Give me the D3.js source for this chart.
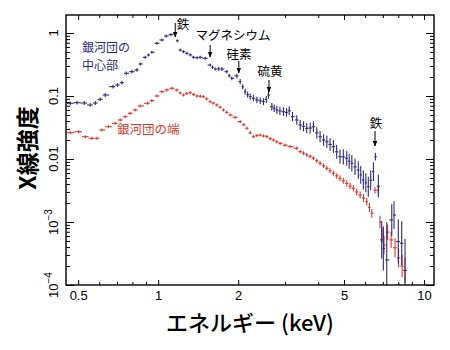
<!DOCTYPE html>
<html>
<head>
<meta charset="utf-8">
<script src="https://cdn.jsdelivr.net/npm/d3@7"></script>
<style>
  html, body { margin: 0; padding: 0; background: #fff; }
  svg { display: block; }
</style>
</head>
<body>
<div id="chart"></div>
<script>
// X線スペクトル: 銀河団の中心部と端

// 中心部 (blue)
const centerEnergy = [0.467, 0.495, 0.527, 0.555, 0.580, 0.605, 0.632, 0.676, 0.703, 0.730,
  0.758, 0.796, 0.832, 0.856, 0.894, 0.919, 0.947, 0.989, 1.033, 1.072,
  1.116, 1.159, 1.179, 1.21, 1.245, 1.282, 1.32, 1.357, 1.40, 1.438,
  1.502, 1.568, 1.60, 1.638, 1.69, 1.736, 1.813, 1.85, 1.892, 1.976,
  2.034, 2.08, 2.124, 2.17, 2.218, 2.28, 2.35, 2.42, 2.489, 2.55,
  2.598, 2.676, 2.73, 2.794, 2.87, 2.958, 3.04, 3.11, 3.20, 3.322,
  3.42, 3.52, 3.62, 3.73, 3.835, 3.95, 4.064, 4.19, 4.31, 4.43,
  4.56, 4.69, 4.83, 4.97, 5.12, 5.23, 5.35, 5.50, 5.66, 5.78,
  5.91, 6.04, 6.17, 6.30, 6.45, 6.56, 6.73, 6.93, 7.03, 7.24,
  7.56, 7.71, 8.0, 8.24, 8.48];
const centerIntensity = [0.0766, 0.0783, 0.0774, 0.072, 0.0774, 0.0887, 0.1037, 0.1405, 0.1495, 0.1626,
  0.229, 0.243, 0.259, 0.322, 0.411, 0.448, 0.494, 0.687, 0.774, 0.896,
  0.94, 0.97, 0.755, 0.537, 0.505, 0.476, 0.448, 0.411, 0.405, 0.411,
  0.397, 0.31, 0.285, 0.268, 0.27, 0.268, 0.243, 0.21, 0.191, 0.208,
  0.169, 0.14, 0.117, 0.105, 0.0975, 0.092, 0.0864, 0.084, 0.0812, 0.088,
  0.1037, 0.0676, 0.064, 0.06, 0.058, 0.0563, 0.055, 0.058, 0.047, 0.0416,
  0.0347, 0.033, 0.0307, 0.031, 0.0326, 0.026, 0.0226, 0.020, 0.0188, 0.017,
  0.0157, 0.013, 0.0109, 0.0108, 0.0103, 0.0092, 0.00855, 0.0075, 0.00669, 0.0056,
  0.00464, 0.0042, 0.00363, 0.0046, 0.0063, 0.0109, 0.0037, 0.00052, 0.00038, 0.00025,
  0.00108, 0.00129, 0.00049, 0.00046, 0.00017];
// 誤差 (dex)
const centerError = [0.03, 0.03, 0.03, 0.03, 0.03, 0.03, 0.03, 0.03, 0.03, 0.03,
  0.03, 0.03, 0.03, 0.025, 0.02, 0.02, 0.02, 0.02, 0.02, 0.02,
  0.02, 0.02, 0.02, 0.02, 0.02, 0.02, 0.02, 0.02, 0.02, 0.02,
  0.025, 0.025, 0.025, 0.025, 0.03, 0.03, 0.03, 0.03, 0.03, 0.035,
  0.04, 0.04, 0.045, 0.045, 0.05, 0.05, 0.05, 0.05, 0.055, 0.055,
  0.06, 0.06, 0.06, 0.065, 0.065, 0.07, 0.07, 0.07, 0.075, 0.075,
  0.08, 0.08, 0.08, 0.085, 0.085, 0.09, 0.09, 0.09, 0.095, 0.1,
  0.1, 0.11, 0.11, 0.12, 0.12, 0.12, 0.13, 0.13, 0.14, 0.14,
  0.15, 0.15, 0.16, 0.16, 0.15, 0.06, 0.18, 0.3, 0.35, 0.6,
  0.25, 0.22, 0.35, 0.35, 0.5];

// 端 (red)
const edgeEnergy = [0.467, 0.502, 0.532, 0.563, 0.588, 0.614, 0.650, 0.689, 0.72, 0.751,
  0.785, 0.819, 0.856, 0.912, 0.947, 0.989, 1.033, 1.078, 1.126, 1.176,
  1.21, 1.245, 1.28, 1.319, 1.36, 1.398, 1.44, 1.48, 1.52, 1.568,
  1.61, 1.662, 1.71, 1.76, 1.81, 1.865, 1.948, 2.034, 2.10, 2.156,
  2.22, 2.282, 2.35, 2.418, 2.49, 2.563, 2.64, 2.714, 2.79, 2.875,
  3.0, 3.134, 3.322, 3.42, 3.52, 3.62, 3.73, 3.835, 3.95, 4.064,
  4.19, 4.31, 4.43, 4.56, 4.69, 4.83, 4.97, 5.12, 5.27, 5.42,
  5.58, 5.75, 5.92, 6.09, 6.23, 6.36, 6.54, 6.73, 6.83, 6.95,
  7.07, 7.29, 7.52, 7.78, 8.02, 8.27, 8.48];
const edgeIntensity = [0.0261, 0.0271, 0.0226, 0.0213, 0.0213, 0.0289, 0.0326, 0.0369, 0.0416, 0.0469,
  0.0531, 0.06, 0.0694, 0.0766, 0.0842, 0.10, 0.117, 0.1245, 0.1325, 0.1245,
  0.112, 0.1037, 0.11, 0.1128, 0.106, 0.10, 0.099, 0.0975, 0.09, 0.0812,
  0.077, 0.072, 0.066, 0.06, 0.055, 0.0499, 0.0459, 0.0391, 0.035, 0.0307,
  0.026, 0.0226, 0.0235, 0.024, 0.0232, 0.0226, 0.021, 0.020, 0.0188, 0.0177,
  0.0166, 0.0157, 0.0148, 0.0131, 0.0124, 0.0116, 0.011, 0.0103, 0.0094, 0.00855,
  0.0078, 0.00712, 0.0065, 0.00593, 0.0054, 0.00494, 0.0045, 0.00411, 0.0037, 0.00343,
  0.003, 0.00268, 0.0024, 0.0021, 0.0017, 0.00137, 0.0032, 0.0032, 0.001, 0.00062,
  0.00043, 0.00069, 0.00052, 0.00039, 0.00027, 0.0002, 0.00017];
const edgeError = [0.02, 0.02, 0.02, 0.02, 0.02, 0.02, 0.02, 0.02, 0.02, 0.02,
  0.02, 0.02, 0.02, 0.02, 0.02, 0.02, 0.015, 0.015, 0.015, 0.015,
  0.015, 0.015, 0.015, 0.015, 0.015, 0.015, 0.015, 0.015, 0.015, 0.015,
  0.015, 0.015, 0.015, 0.02, 0.02, 0.02, 0.02, 0.02, 0.02, 0.02,
  0.02, 0.02, 0.02, 0.02, 0.02, 0.025, 0.025, 0.025, 0.025, 0.025,
  0.025, 0.025, 0.03, 0.03, 0.03, 0.03, 0.03, 0.03, 0.035, 0.035,
  0.035, 0.035, 0.04, 0.04, 0.04, 0.045, 0.045, 0.05, 0.05, 0.05,
  0.055, 0.055, 0.06, 0.06, 0.07, 0.07, 0.05, 0.05, 0.1, 0.12,
  0.15, 0.12, 0.13, 0.15, 0.15, 0.18, 0.2];

// 目盛り
const xTickMajor = [0.5, 1, 2, 5, 10];
const xTickMinor = [0.6, 0.7, 0.8, 0.9, 3, 4, 6, 7, 8, 9];
const yTickMajor = [1e-4, 1e-3, 0.01, 0.1, 1];
const yTickLabels = [["10", "−4"], ["10", "−3"], ["0.01"], ["0.1"], ["1"]];

// 元素ラベル
const lineLabels = [
  { name: "鉄", energy: 1.159, tx: 183, ty: 24, y1: 23, y2: 37 },
  { name: "マグネシウム", energy: 1.568, tx: 233, ty: 35, y1: 45, y2: 57 },
  { name: "硅素", energy: 2.01, tx: 239, ty: 54, y1: 61, y2: 73 },
  { name: "硫黄", energy: 2.61, tx: 270, ty: 71, y1: 80, y2: 92 },
  { name: "鉄", energy: 6.54, tx: 376, ty: 123, y1: 131, y2: 146 }
];

const W = 450, H = 350;
const blue = "#2d2b7e";
const red = "#e2362c";
const jp = "'Noto Sans CJK JP', 'Noto Sans', sans-serif";
const num = "'Liberation Sans', Arial, sans-serif";

const svg = d3.select("#chart").append("svg")
  .attr("width", W)
  .attr("height", H);

const x = d3.scaleLog().domain([0.45, 10.9]).range([66, 434]);
const y = d3.scaleLog().domain([1e-4, 1.93]).range([285, 15]);
const [x0, x1] = x.range();
const [y0, y1] = y.range();

svg.append("defs").append("clipPath").attr("id", "plotClip")
  .append("rect")
  .attr("x", x0).attr("y", y1)
  .attr("width", x1 - x0).attr("height", y0 - y1);

svg.append("defs").append("marker")
  .attr("id", "arrowHead")
  .attr("viewBox", "0 0 10 10")
  .attr("refX", 9).attr("refY", 5)
  .attr("markerWidth", 6).attr("markerHeight", 6)
  .attr("markerUnits", "userSpaceOnUse")
  .attr("orient", "auto")
  .append("path")
  .attr("d", "M0,1 L10,5 L0,9 Z")
  .attr("fill", "#000");

// データ点 (十字のエラーバー)
function drawSeries(energy, intensity, error, color) {
  const pts = energy.map((e, i) => ({ e, v: intensity[i], err: error[i] }));
  const g = svg.append("g").attr("clip-path", "url(#plotClip)")
    .attr("stroke", color).attr("stroke-width", 1.1);
  pts.forEach((p, i) => {
    const px = x(p.e);
    const prev = i > 0 ? x(pts[i - 1].e) : px - (x(pts[i + 1].e) - px);
    const next = i < pts.length - 1 ? x(pts[i + 1].e) : px + (px - prev);
    const hl = (px - prev) / 2, hr = (next - px) / 2;
    const py = y(p.v);
    const lo = y(p.v / Math.pow(10, p.err));
    const hi = y(p.v * Math.pow(10, p.err));
    g.append("line").attr("x1", px - hl).attr("x2", px + hr).attr("y1", py).attr("y2", py);
    g.append("line").attr("x1", px).attr("x2", px).attr("y1", Math.max(lo, py + 1.5)).attr("y2", Math.min(hi, py - 1.5));
  });
}

drawSeries(edgeEnergy, edgeIntensity, edgeError, red);
drawSeries(centerEnergy, centerIntensity, centerError, blue);

// 枠
svg.append("rect")
  .attr("x", x0).attr("y", y1)
  .attr("width", x1 - x0).attr("height", y0 - y1)
  .attr("fill", "none").attr("stroke", "#000").attr("stroke-width", 1.4);

const yTickMinor = [];
yTickMajor.forEach(d => {
  for (let k = 2; k <= 9; k++) {
    const t = d * k;
    if (t < y.domain()[1]) yTickMinor.push(t);
  }
});

function styleAxis(sel) {
  sel.select(".domain").remove();
  sel.selectAll("line").attr("stroke", "#000").attr("stroke-width", 1);
}

// X軸 (下・上)
svg.append("g").attr("transform", `translate(0,${y0})`)
  .call(d3.axisBottom(x).tickValues(xTickMinor).tickSize(-3).tickFormat(""))
  .call(styleAxis);
svg.append("g").attr("transform", `translate(0,${y0})`)
  .call(d3.axisBottom(x).tickValues(xTickMajor).tickSize(-5).tickPadding(6).tickFormat(d3.format("")))
  .call(styleAxis)
  .selectAll("text")
  .style("font-family", num).style("font-size", "13px").style("fill", "#000");
svg.append("g").attr("transform", `translate(0,${y1})`)
  .call(d3.axisTop(x).tickValues(xTickMinor).tickSize(-3).tickFormat(""))
  .call(styleAxis);
svg.append("g").attr("transform", `translate(0,${y1})`)
  .call(d3.axisTop(x).tickValues(xTickMajor).tickSize(-5).tickFormat(""))
  .call(styleAxis);

// Y軸 (左・右)
svg.append("g").attr("transform", `translate(${x0},0)`)
  .call(d3.axisLeft(y).tickValues(yTickMinor).tickSize(-4).tickFormat(""))
  .call(styleAxis);
svg.append("g").attr("transform", `translate(${x0},0)`)
  .call(d3.axisLeft(y).tickValues(yTickMajor).tickSize(-8).tickFormat(""))
  .call(styleAxis);
svg.append("g").attr("transform", `translate(${x1},0)`)
  .call(d3.axisRight(y).tickValues(yTickMinor).tickSize(-4).tickFormat(""))
  .call(styleAxis);
svg.append("g").attr("transform", `translate(${x1},0)`)
  .call(d3.axisRight(y).tickValues(yTickMajor).tickSize(-8).tickFormat(""))
  .call(styleAxis);

// Y目盛りラベル (縦書き回転)
yTickMajor.forEach((d, i) => {
  const lab = yTickLabels[i];
  const t = svg.append("text")
    .attr("transform", `translate(58,${y(d)}) rotate(-90)`)
    .attr("text-anchor", "middle")
    .style("font-family", num).style("font-size", "13px")
    .text(lab[0]);
  if (lab.length > 1) {
    t.append("tspan").attr("dy", -6).style("font-size", "10px").text(lab[1]);
  }
});

// 軸タイトル
svg.append("text")
  .attr("x", 250).attr("y", 331)
  .attr("text-anchor", "middle")
  .style("font-family", jp).style("font-size", "22px").style("font-weight", "500")
  .text("エネルギー (keV)");

svg.append("text")
  .attr("transform", "translate(36,148) rotate(-90)")
  .attr("text-anchor", "middle")
  .style("font-family", jp).style("font-size", "23px").style("font-weight", "700")
  .text("X線強度");

// 系列ラベル
svg.append("text").attr("x", 82).attr("y", 52)
  .style("font-family", jp).style("font-size", "12px").style("fill", blue)
  .text("銀河団の");
svg.append("text").attr("x", 82).attr("y", 70)
  .style("font-family", jp).style("font-size", "12px").style("fill", blue)
  .text("中心部");
svg.append("text").attr("x", 117).attr("y", 134)
  .style("font-family", jp).style("font-size", "12.5px").style("fill", red)
  .text("銀河団の端");

// 輝線の矢印
lineLabels.forEach(l => {
  svg.append("text")
    .attr("x", l.tx).attr("y", l.ty + 4.5)
    .attr("text-anchor", "middle")
    .style("font-family", jp).style("font-size", "12.5px")
    .text(l.name);
  svg.append("line")
    .attr("x1", x(l.energy)).attr("x2", x(l.energy))
    .attr("y1", l.y1).attr("y2", l.y2)
    .attr("stroke", "#000").attr("stroke-width", 1)
    .attr("marker-end", "url(#arrowHead)");
});
</script>
</body>
</html>
